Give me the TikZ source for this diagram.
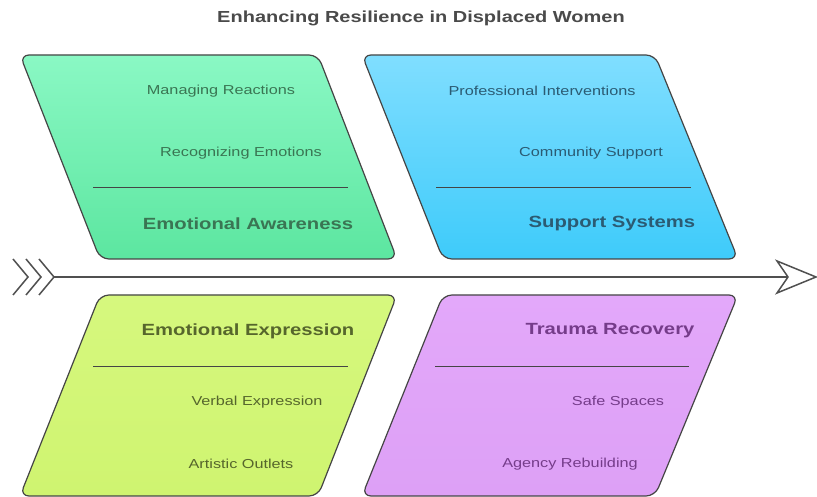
\documentclass[tikz,border=0pt]{standalone}
\usepackage{fontspec}
\setmainfont[FakeStretch=1.25]{Liberation Sans}
\definecolor{edge}{HTML}{454545}
\definecolor{spinec}{HTML}{505050}
\definecolor{titlec}{HTML}{4A4A4A}
\definecolor{gtop}{HTML}{8AF8C4}
\definecolor{gbot}{HTML}{5CE6A0}
\definecolor{gtxt}{HTML}{3A7553}
\definecolor{btop}{HTML}{80DEFF}
\definecolor{bbot}{HTML}{3ECBFA}
\definecolor{btxt}{HTML}{2B5B73}
\definecolor{ytop}{HTML}{D6F87E}
\definecolor{ybot}{HTML}{CFF470}
\definecolor{ytxt}{HTML}{56662C}
\definecolor{ptop}{HTML}{E3A8FA}
\definecolor{pbot}{HTML}{DDA0F6}
\definecolor{ptxt}{HTML}{753C8A}
\tikzset{
  panel/.style={draw=edge, line width=1.2pt, rounded corners=9pt},
  sep/.style={draw=edge, line width=1pt},
  head/.style={font=\fontsize{16.2}{18}\selectfont\bfseries, inner sep=0pt},
  item/.style={font=\fontsize{13}{15}\selectfont, inner sep=0pt},
  chev/.style={draw=spinec, line width=1.5pt},
}
\begin{document}
\begin{tikzpicture}[x=1pt,y=-1pt]
\useasboundingbox (0,0) rectangle (817,497);
\fill[white] (0,0) rectangle (817,497);

\node[font=\fontsize{16}{18}\selectfont\bfseries, text=titlec, inner sep=0pt] (title) at (421,18) {Enhancing Resilience in Displaced Women};

% panels
\path[panel, top color=gtop, bottom color=gbot] (20,55) -- (318,55) -- (397,259) -- (100,259) -- cycle;
\path[panel, top color=btop, bottom color=bbot] (362,55) -- (655,55) -- (738,259) -- (443,259) -- cycle;
\path[panel, top color=ytop, bottom color=ybot] (100,295) -- (397,295) -- (318,496) -- (20,496) -- cycle;
\path[panel, top color=ptop, bottom color=pbot] (443,295) -- (738,295) -- (655,496) -- (362,496) -- cycle;

% separators
\coordinate (s1a) at (93,188); \coordinate (s1b) at (348,188);
\coordinate (s2a) at (436,188); \coordinate (s2b) at (691,188);
\coordinate (s3a) at (93,366); \coordinate (s3b) at (348,366);
\coordinate (s4a) at (435,366); \coordinate (s4b) at (689,366);
\draw[sep] (s1a) -- (s1b);
\draw[sep] (s2a) -- (s2b);
\draw[sep] (s3a) -- (s3b);
\draw[sep] (s4a) -- (s4b);

% texts
\node[item, text=gtxt] (ea1) at (221,91) {Managing Reactions};
\node[item, text=gtxt] (ea2) at (241,153) {Recognizing Emotions};
\node[head, text=gtxt] (ea) at (248,224) {Emotional Awareness};

\node[item, text=btxt] (ss1) at (542,91) {Professional Interventions};
\node[item, text=btxt] (ss2) at (591,153) {Community Support};
\node[head, text=btxt] (ss) at (612,224) {Support Systems};

\node[head, text=ytxt] (ee) at (248,331) {Emotional Expression};
\node[item, text=ytxt] (ee1) at (257,402) {Verbal Expression};
\node[item, text=ytxt] (ee2) at (241,464) {Artistic Outlets};

\node[head, text=ptxt] (tr) at (610,331) {Trauma Recovery};
\node[item, text=ptxt] (tr1) at (618,402) {Safe Spaces};
\node[item, text=ptxt] (tr2) at (570,464) {Agency Rebuilding};

% spine
\coordinate (tail) at (54,277);
\coordinate (notch) at (788,277);
\draw[spinec, line width=1.5pt] (tail) -- (notch);
\draw[chev] (13,259) -- (28,277) -- (13,295);
\draw[chev] (26,259) -- (41,277) -- (26,295);
\draw[chev] (39,259) -- (54,277) -- (39,295);
\draw[spinec, line width=1.5pt, line join=miter, fill=white] (777,261) -- (816,277) -- (777,293) -- (notch) -- cycle;
\end{tikzpicture}
\end{document}
